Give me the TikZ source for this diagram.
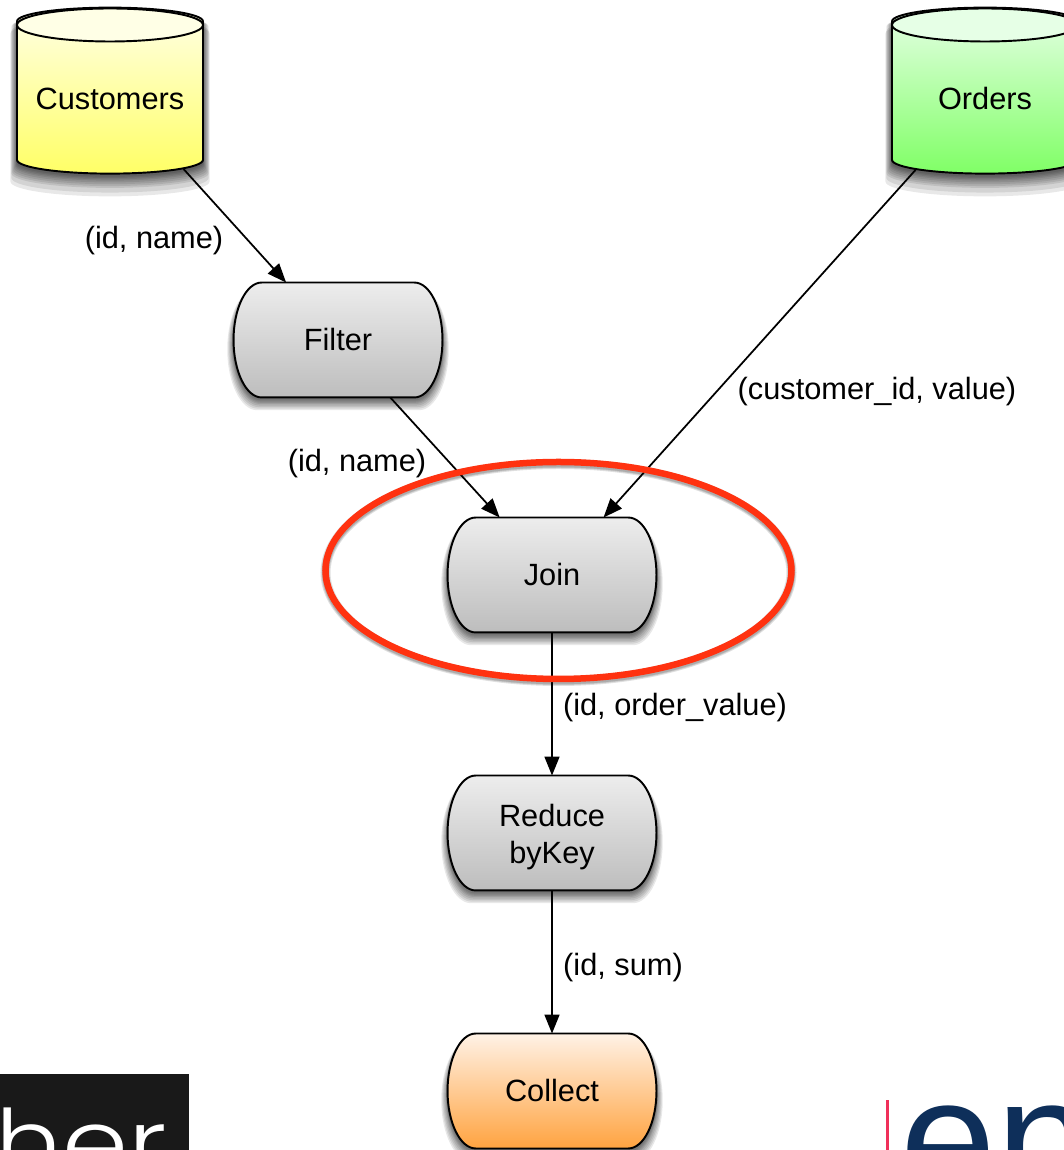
\documentclass[tikz,border=0pt]{standalone}
\usepackage{fontspec}
\setmainfont{Liberation Sans}
\newfontfamily\herfont{Poppins Light}
\usetikzlibrary{shapes.geometric,shadows,arrows.meta}
\definecolor{ringred}{HTML}{FF3210}
\definecolor{logonavy}{HTML}{0E2F5A}
\definecolor{logopink}{HTML}{F0305A}
\definecolor{greytop}{HTML}{EDEDED}
\definecolor{greybot}{HTML}{BDBDBD}
\definecolor{orangetop}{HTML}{FFF2E6}
\definecolor{orangebot}{HTML}{FFA340}
\definecolor{yellowtop}{HTML}{FFFFE6}
\definecolor{yellowbot}{HTML}{FFFF66}
\definecolor{greentop}{HTML}{E6FFE6}
\definecolor{greenbot}{HTML}{80FF66}
\makeatletter
\pgfdeclareshape{pillbox}{
  \inheritsavedanchors[from=rectangle]
  \inheritanchorborder[from=rectangle]
  \inheritanchor[from=rectangle]{center}
  \inheritanchor[from=rectangle]{north}
  \inheritanchor[from=rectangle]{south}
  \backgroundpath{
    \southwest \edef\pxa{\the\pgf@x}\edef\pya{\the\pgf@y}
    \northeast \edef\pxb{\the\pgf@x}\edef\pyb{\the\pgf@y}
    \def\pillr{16pt}
    \pgfmathsetlengthmacro{\pym}{.5*\pya+.5*\pyb}
    \pgfpathmoveto{\pgfpoint{\pxa+\pillr}{\pyb}}
    \pgfpathlineto{\pgfpoint{\pxb-\pillr}{\pyb}}
    \pgfpathcurveto{\pgfpoint{\pxb-.45*\pillr}{\pyb}}{\pgfpoint{\pxb}{.55*\pyb+.45*\pym}}{\pgfpoint{\pxb}{\pym}}
    \pgfpathcurveto{\pgfpoint{\pxb}{.55*\pya+.45*\pym}}{\pgfpoint{\pxb-.45*\pillr}{\pya}}{\pgfpoint{\pxb-\pillr}{\pya}}
    \pgfpathlineto{\pgfpoint{\pxa+\pillr}{\pya}}
    \pgfpathcurveto{\pgfpoint{\pxa+.45*\pillr}{\pya}}{\pgfpoint{\pxa}{.55*\pya+.45*\pym}}{\pgfpoint{\pxa}{\pym}}
    \pgfpathcurveto{\pgfpoint{\pxa}{.55*\pyb+.45*\pym}}{\pgfpoint{\pxa+.45*\pillr}{\pyb}}{\pgfpoint{\pxa+\pillr}{\pyb}}
    \pgfpathclose
  }
}
\makeatother
\tikzset{
  softstep/.style 2 args={general shadow={fill=black,opacity=.09,shadow yshift=-#1pt,shadow scale=#2}},
  softshadow/.style={softstep={5}{1.06},softstep={4.5}{1.05},softstep={4}{1.04},softstep={3.5}{1.03},
    softstep={3}{1.02},softstep={2.5}{1.015},softstep={2}{1.01},softstep={1.5}{1.005}},
  procnode/.style 2 args={draw=black,line width=1.1pt,shape=pillbox,
    minimum width=4.14cm,minimum height=2.26cm,inner sep=0pt,align=center,softshadow,
    top color=#1,bottom color=#2},
  dbnode/.style 2 args={draw=black,line width=1.1pt,cylinder,shape border rotate=90,shape aspect=.178,
    minimum width=3.72cm,minimum height=3.32cm,inner sep=0pt,text width=3.1cm,align=center,
    text height=13pt,text depth=0pt,
    softstep={9}{1.07},softstep={7.5}{1.06},softshadow,
    top color=#1,bottom color=#2},
  flowedge/.style={draw=black,line width=1pt,-{Triangle[length=.38cm,width=.3cm]}},
  every node/.style={font=\fontsize{17.5}{21}\selectfont}
}
\begin{document}
\begin{tikzpicture}
\clip (0,0) rectangle (21.28,23);
\fill[white] (0,0) rectangle (21.28,23);
% logos
\fill[black!90!white] (0,0) rectangle (3.78,1.52);
\node[white,anchor=base west,inner sep=0pt,xscale=1.16] (herlogo) at (-.1,-.52) {\fontsize{52}{60}\herfont her};
\fill[logopink] (17.72,0) rectangle (17.78,1);
\node[logonavy,anchor=base west,inner sep=0pt] (enlogo) at (18,-.97) {\fontsize{98}{110}\selectfont en};
% nodes
\node[dbnode={yellowtop}{yellowbot}] (customers) at (2.2,21.04) {Customers};
\node[dbnode={greentop}{greenbot}] (orders) at (19.7,21.04) {Orders};
\draw[line width=1.1pt,fill=yellowtop] (2.2,22.5) ellipse (1.86 and .33);
\draw[line width=1.1pt,fill=greentop] (19.7,22.5) ellipse (1.86 and .33);
\node[procnode={greytop}{greybot}] (filter) at (6.76,16.2) {Filter};
\node[procnode={greytop}{greybot}] (join) at (11.04,11.5) {Join};
\node[procnode={greytop}{greybot}] (reduce) at (11.04,6.34) {\rule{0pt}{17pt}Reduce\\byKey};
\node[procnode={orangetop}{orangebot}] (collect) at (11.04,1.18) {Collect};
% connectors
\draw[flowedge] (customers.-44.6) -- (filter);
\draw[flowedge] (filter) -- (join);
\draw[flowedge] (orders.-134.6) -- (join);
\draw[flowedge] (join) -- (reduce);
\draw[flowedge] (reduce) -- (collect);
% labels
\node (lbla) at (3.08,18.18) {(id, name)};
\node (lblb) at (7.14,13.72) {(id, name)};
\node (lblc) at (17.54,15.16) {(customer\_id, value)};
\node (lbld) at (13.5,8.84) {(id, order\_value)};
\node (lble) at (12.46,3.64) {(id, sum)};
% highlight
\foreach \w in {.2,.16,.13}{
  \draw[black,opacity=.12,line width=\w cm] (11.17,11.55) ellipse (4.66 and 2.17);
}
\draw[ringred,line width=.13cm] (11.17,11.59) ellipse (4.66 and 2.17);
\end{tikzpicture}
\end{document}
